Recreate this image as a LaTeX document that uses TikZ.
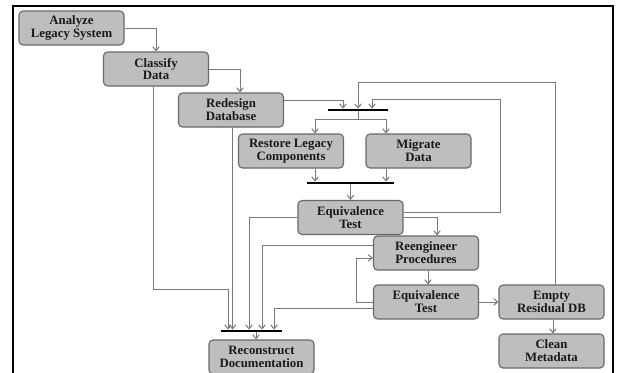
\documentclass[tikz,border=0pt]{standalone}
\usepackage{fontspec}
\setmainfont{Liberation Serif}
\usetikzlibrary{arrows.meta}
\definecolor{boxfill}{RGB}{190,190,190}
\definecolor{boxline}{RGB}{105,105,105}
\definecolor{wire}{RGB}{120,120,120}
\definecolor{ink}{RGB}{25,25,25}
\begin{document}
\begin{tikzpicture}[x=1pt,y=-1pt,
  stepbox/.style={draw=boxline, fill=boxfill, line width=1.1pt, rounded corners=4pt,
    minimum width=105pt, minimum height=34pt, inner sep=0pt, align=center,
    text=ink, font=\bfseries\fontsize{12.8}{12.8}\selectfont},
  syncbar/.style={fill=black, draw=none, rectangle, inner sep=0pt, minimum height=2.4pt},
  wireline/.style={draw=wire, line width=1pt},
  arr/.style={wireline, -{Straight Barb[length=4pt,width=6.5pt]}}]
\useasboundingbox (0,0) rectangle (618,372);
% page frame
\draw[line width=1.8pt] (13,380) -- (13,6) -- (613,6) -- (613,380);

% activities
\node[stepbox] (ana) at (71.5,28)  {Analyze\\Legacy System};
\node[stepbox] (cla) at (156,69)   {Classify\\Data};
\node[stepbox] (red) at (231,110)  {Redesign\\Database};
\node[stepbox] (res) at (291,151)  {Restore Legacy\\Components};
\node[stepbox] (mig) at (418.5,151){Migrate\\Data};
\node[stepbox] (eqa) at (350.5,217.5){Equivalence\\Test};
\node[stepbox] (ree) at (426,253)  {Reengineer\\Procedures};
\node[stepbox] (eqb) at (426,302)  {Equivalence\\Test};
\node[stepbox] (emp) at (551.5,302){Empty\\Residual DB};
\node[stepbox] (cle) at (551.5,351){Clean\\Metadata};
\node[stepbox] (rec) at (261.5,357){Reconstruct\\Documentation};

% synchronisation bars
\node[syncbar, minimum width=60pt] (fork) at (358,110) {};
\node[syncbar, minimum width=87pt] (join) at (350.5,183) {};
\node[syncbar, minimum width=61pt] (docs) at (251,331) {};

% sequential flow
\draw[arr] (ana.east) -| (cla.north);
\draw[arr] (cla.east) -| ([xshift=9pt]red.north);
\draw[arr] ([yshift=10pt]red.east) -| ([xshift=-15pt]fork.north);
\draw[arr] ([xshift=3.5pt]emp.north) -- ++(0,-202) -| (fork.north);
\draw[arr] ([yshift=5.5pt]eqa.east) -- ++(97,0) -- ++(0,-113) -| ([xshift=14pt]fork.north);

% fork into the two parallel branches
\draw[wireline] (fork.south) -- ++(0,7.75) coordinate (split);
\draw[arr] (split) -| ([xshift=24pt]res.north);
\draw[arr] (split) -| ([xshift=-32.5pt]mig.north);

% join of the branches
\draw[arr] ([xshift=24pt]res.south) -- ([xshift=24pt]res.south |- join.north);
\draw[arr] ([xshift=-32.5pt]mig.south) -- ([xshift=-32.5pt]mig.south |- join.north);
\draw[arr] (join.south) -- (eqa.north);

% reengineering loop
\draw[arr] (eqa.east) -| ([xshift=11pt]ree.north);
\draw[arr] ([xshift=2pt]ree.south) -- ([xshift=2pt]ree.south |- eqb.north);
\draw[arr] (eqb.west) -- ++(-16,0) |- ([yshift=-5pt]ree.west);
\draw[arr] (eqb.east) -- (emp.west);
\draw[arr] ([xshift=1.5pt]emp.south) -- ([xshift=1.5pt]emp.south |- cle.north);

% inputs to documentation
\draw[arr] ([xshift=-3pt]cla.south) -- ++(0,203) -| ([xshift=-23pt]docs.north);
\draw[arr] ([xshift=1.5pt]red.south) -- ([xshift=1.5pt]red.south |- docs.north);
\draw[arr] (eqa.west) -| ([xshift=-2pt]docs.north);
\draw[arr] ([yshift=8pt]ree.west) -| ([xshift=11pt]docs.north);
\draw[arr] ([yshift=-6pt]eqb.west) -| ([xshift=23pt]docs.north);
\draw[arr] ([xshift=5pt]docs.south) -- ([xshift=5pt]docs.south |- rec.north);
\end{tikzpicture}
\end{document}
